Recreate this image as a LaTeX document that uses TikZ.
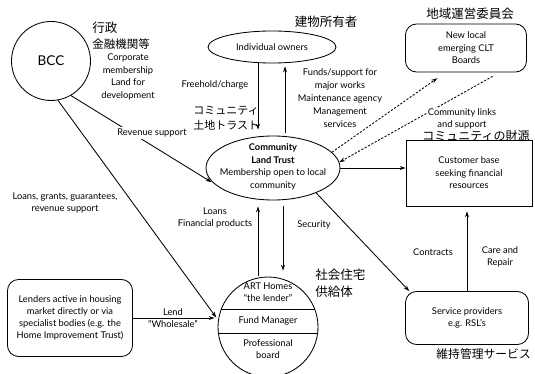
\documentclass[tikz,border=0pt]{standalone}
\usepackage{fontspec}
\setmainfont{Lato}
\newfontfamily\jpfont{Noto Sans CJK JP}
\usetikzlibrary{arrows.meta,shapes.geometric,calc}
\begin{document}
\begin{tikzpicture}[x=1pt,y=-1pt,
  line width=0.85pt,
  txt/.style={align=center,inner sep=0pt,font=\fontsize{9.3}{12.5}\selectfont},
  jp/.style={align=left,inner sep=0pt,font=\jpfont\fontsize{12.5}{15}\selectfont},
  jps/.style={align=left,inner sep=0pt,font=\jpfont\fontsize{11}{14}\selectfont},
  arr/.style={-{Stealth[length=6pt,width=4pt]}},
  dsh/.style={dash pattern=on 2.2pt off 1.6pt},
  rbox/.style={draw,rounded corners=11pt,txt},
]
\fill[white] (0,0) rectangle (535,374);
\useasboundingbox (0,0) rectangle (535,374);

% main shapes
\node[draw,circle,minimum size=79pt,inner sep=0pt,font=\fontsize{13.5}{15}\selectfont] (bcc) at (51,61) {BCC};
\node[draw,ellipse,minimum width=128pt,minimum height=32pt,inner sep=0pt,txt] (own) at (272,47) {Individual owners};
\node[draw,ellipse,minimum width=134pt,minimum height=64pt,inner sep=0pt] (clt) at (273,168) {};
\node[txt,font=\fontsize{9.3}{12.7}\selectfont] (cltt) at (273,167) {\textbf{Community}\\\textbf{Land Trust}\\Membership open to local\\community};
\node[rbox,minimum width=121pt,minimum height=48pt] (brd) at (466,48) {New local\\emerging CLT\\Boards};
\node[draw,txt,minimum width=126pt,minimum height=66pt] (cust) at (469,173) {Customer base\\seeking financial\\resources};
\node[rbox,minimum width=123pt,minimum height=53pt] (svc) at (467,318) {Service providers\\e.g. RSL's};
\node[rbox,minimum width=125pt,minimum height=77pt,font=\fontsize{9.3}{11.8}\selectfont] (lend) at (70,318) {Lenders active in housing\\market directly or via\\specialist bodies (e.g. the\\Home Improvement Trust)};
\node[draw,circle,minimum size=100pt,inner sep=0pt] (art) at (268,327) {};
\draw ($(art.center)+(-46.6,-18)$) -- ($(art.center)+(46.6,-18)$);
\draw ($(art.center)+(-49.6,6)$) -- ($(art.center)+(49.6,6)$);
\node[txt,font=\fontsize{9.3}{11.5}\selectfont] (arta) at (268,292) {ART Homes\\“the lender”};
\node[txt] (artb) at (268,321) {Fund Manager};
\node[txt] (artc) at (268,349) {Professional\\board};

% labels
\node[jp,anchor=west] (gyo) at (92,28) {行政};
\node[jp,anchor=west,font=\jpfont\fontsize{11.5}{14}\selectfont] (kin) at (92,44) {金融機関等};
\node[txt,font=\fontsize{9.3}{12.7}\selectfont] (corp) at (128,77) {Corporate\\membership\\Land for\\development};
\node[jp] (bld) at (326,22) {建物所有者};
\node[jp] (chiki) at (470,14) {地域運営委員会};
\node[txt] (fh) at (215,85) {Freehold/charge};
\node[jps,anchor=west] (cl1) at (193,111) {コミュニティ};
\node[jps,anchor=west] (cl2) at (193,125) {土地トラスト};
\node[txt,font=\fontsize{9.3}{13}\selectfont] (funds) at (340,98) {Funds/support for\\major works\\Maintenance agency\\Management\\services};
\node[jp,anchor=west,font=\jpfont\fontsize{12}{14}\selectfont] (zaigen) at (422,136) {コミュニティの財源};
\node[txt] (lgg) at (65,203) {Loans, grants, guarantees,\\revenue support};
\node[txt] (loans) at (215,218) {Loans\\Financial products};
\node[txt] (sec) at (314,225) {Security};
\node[jp,anchor=west] (shakai) at (315,275) {社会住宅};
\node[jp,anchor=west] (kyokyu) at (315,292) {供給体};
\node[txt] (contr) at (433,252) {Contracts};
\node[txt] (care) at (500,257) {Care and\\Repair};
\node[jp,anchor=west,font=\jpfont\fontsize{11.8}{14}\selectfont] (iji) at (436,354) {維持管理サービス};

% connectors
\coordinate (xa) at (258,0);
\coordinate (xb) at (285,0);
\coordinate (xc) at (283,0);
\draw[arr,shorten >=6pt] (xa |- own.south) -- (xa |- clt.north);
\draw[arr,shorten <=3pt,shorten >=3pt] (xb |- clt.north) -- (xb |- own.south);
\draw[arr,shorten <=1pt,shorten >=6pt] (xa |- art.north) -- (xa |- clt.south);
\draw[arr,shorten <=6pt,shorten >=6pt] (xc |- clt.south) -- (xc |- art.north);
\draw[arr,shorten >=3pt] (bcc.-60) -- (clt.195);
\draw[arr,shorten >=3pt] (bcc.-80) -- (art.172);
\draw[arr] (clt.-30) -- (svc.155);
\draw[arr] (clt.east) -- (clt.east -| cust.west);
\draw[arr,shorten >=5pt] (svc.north) -- (svc.north |- cust.south);
\draw[arr,shorten >=3pt] (lend.east) -- (lend.east -| art.west);
\draw[arr,dsh,shorten >=10pt] (clt.15) -- (brd.-130);
\draw[arr,dsh,shorten <=8pt] (brd.-36) -- (clt.5);

% labels drawn over lines
\node[txt,fill=white,inner sep=2pt] (rev) at (152,133) {Revenue support};
\node[txt,fill=white,inner sep=1pt] (links) at (462,119) {Community links\\and support};
\node[txt] (lendl) at (173,312) {Lend};
\node[txt] (whole) at (173,324) {“Wholesale”};
\end{tikzpicture}
\end{document}
